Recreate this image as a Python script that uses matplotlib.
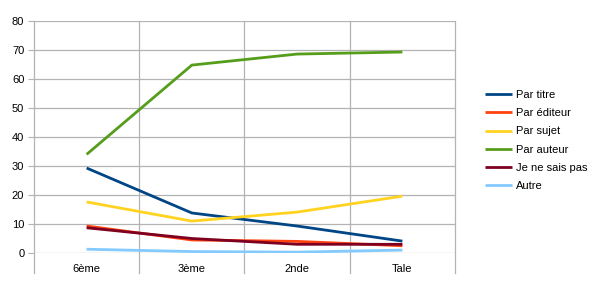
import matplotlib
matplotlib.use("Agg")
import matplotlib.pyplot as plt

categories = ["6ème", "3ème", "2nde", "Tale"]
series_names = ["Par titre", "Par éditeur", "Par sujet", "Par auteur", "Je ne sais pas", "Autre"]
par_titre = [29.3, 13.8, 9.3, 4.1]
par_editeur = [9.3, 4.5, 4.0, 2.5]
par_sujet = [17.6, 11.0, 14.1, 19.6]
par_auteur = [34.0, 64.8, 68.6, 69.3]
je_ne_sais_pas = [8.7, 5.0, 3.0, 3.0]
autre = [1.3, 0.5, 0.3, 1.0]
yticks = [0, 10, 20, 30, 40, 50, 60, 70, 80]

colors = ["#004586", "#ff420e", "#ffd320", "#579d1c", "#7e0021", "#83caff"]
data = [par_titre, par_editeur, par_sujet, par_auteur, je_ne_sais_pas, autre]

plt.rcParams['font.family'] = ['Liberation Sans', 'DejaVu Sans']
fig = plt.figure(figsize=(5.97, 2.88), dpi=100)
ax = fig.add_axes([34/597, 1-253/288, 421/597, 232/288])
ax.set_xlim(-0.5, 3.5)
ax.set_ylim(0, 80)
for s in ax.spines.values():
    s.set_visible(False)

grid_c = "#b3b3b3"
for y in yticks:
    ax.axhline(y, color=grid_c, lw=0.9, zorder=1)
below = -20/2.9
for x in [-0.5, 0.5, 1.5, 2.5, 3.5]:
    ax.plot([x, x], [80, below], color=grid_c, lw=0.9, clip_on=False, zorder=1)

xs = list(range(len(categories)))
for name, vals, c in zip(series_names, data, colors):
    ax.plot(xs, vals, color=c, lw=2.0, label=name, zorder=3, solid_capstyle='butt')

ax.set_yticks(yticks)
ax.set_yticklabels([str(v) for v in yticks], fontsize=8, color="#000000")
ax.tick_params(axis='y', length=4, color=grid_c, pad=3)
ax.set_xticks(xs)
ax.set_xticklabels(categories, fontsize=8)
ax.tick_params(axis='x', length=0, pad=8)

leg = ax.legend(loc='center left', bbox_to_anchor=((485-34)/421, 0.485), frameon=False,
                fontsize=8, handlelength=2.4, handletextpad=0.4, labelspacing=0.73,
                borderaxespad=0, borderpad=0)
fig.savefig("out.png", dpi=100)
